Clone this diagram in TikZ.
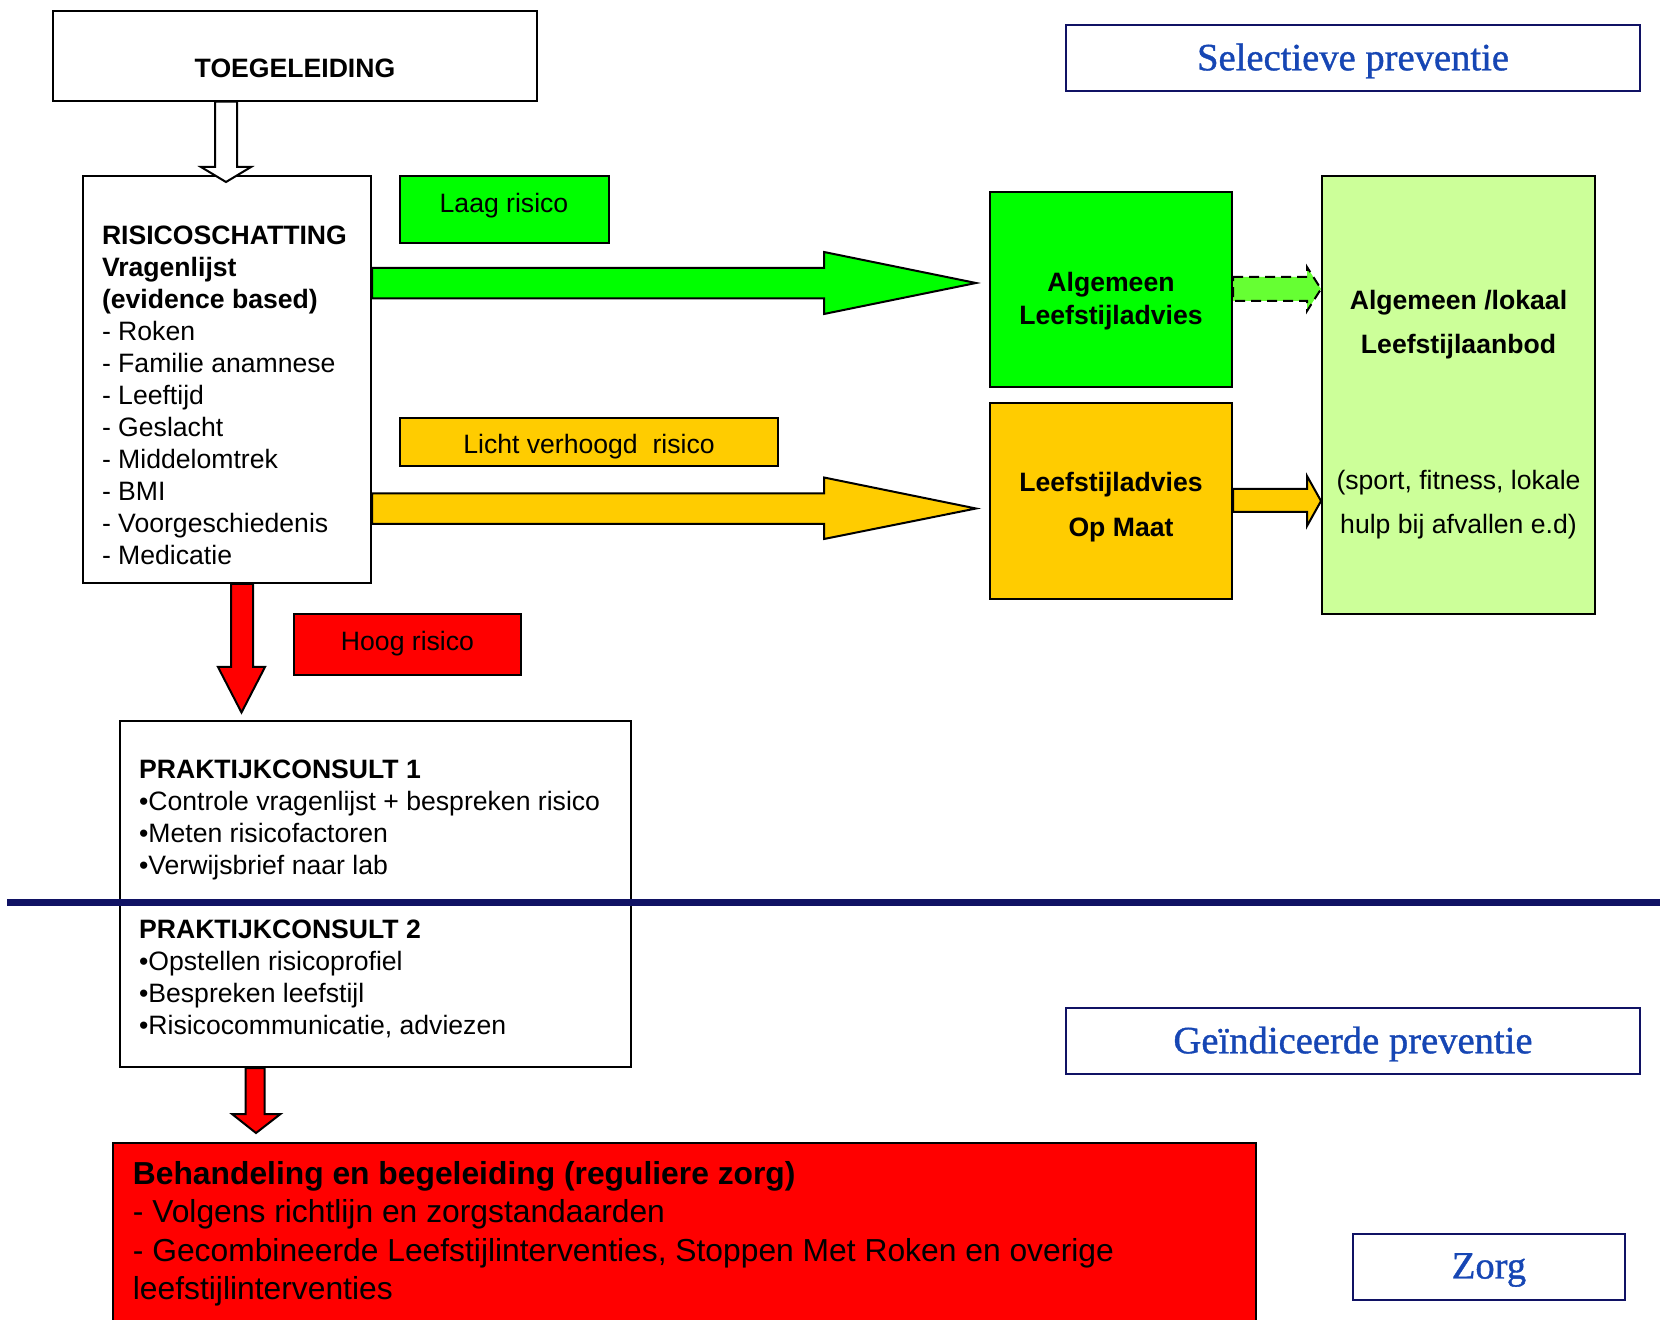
\documentclass[tikz,border=0pt]{standalone}
\usepackage{fontspec}
\setmainfont{Liberation Sans}
\newfontfamily\serifblue[FakeBold=1]{Liberation Serif}
\usetikzlibrary{calc}
\definecolor{cgreen}{RGB}{0,255,0}
\definecolor{corange}{RGB}{255,204,0}
\definecolor{clight}{RGB}{204,255,153}
\definecolor{cred}{RGB}{255,0,0}
\definecolor{cdash}{RGB}{102,255,51}
\definecolor{cnavy}{RGB}{16,18,100}
\definecolor{cblue}{RGB}{22,70,180}
\begin{document}
\begin{tikzpicture}[x=0.5pt,y=-0.5pt,
  box/.style={draw=black, line width=1pt, inner sep=0pt},
  lbl/.style={inner sep=0pt, font=\fontsize{13.3}{16}\selectfont},
  blk/.style={draw=black, line width=1pt, line join=miter},
  tag/.style={draw=cnavy, line width=1.3pt, inner sep=0pt, fill=white},
  tagtext/.style={inner sep=0pt, text=cblue, font=\serifblue\fontsize{19.3}{23}\selectfont}]
\useasboundingbox (0,0) rectangle (1660,1320);
\fill[white] (0,0) rectangle (1660,1320);

% boxes
\node[box, minimum width=242pt, minimum height=45pt] (toe) at (295,55.6) {};
\node[box, minimum width=144pt, minimum height=203.5pt] (risk) at (227,379.5) {};
\node[box, fill=cgreen, minimum width=104.5pt, minimum height=33.75pt] (laag) at (504.5,209.75) {};
\node[box, fill=corange, minimum width=189pt, minimum height=24pt] (licht) at (589,442) {};
\node[box, fill=cred, minimum width=113.5pt, minimum height=30.5pt] (hoog) at (407.5,644.5) {};
\node[box, fill=cgreen, minimum width=121pt, minimum height=97.75pt] (alg) at (1111,289.75) {};
\node[box, fill=corange, minimum width=121pt, minimum height=98pt] (opmaat) at (1111,501) {};
\node[box, fill=clight, minimum width=136.5pt, minimum height=219pt] (aanbod) at (1458.5,395) {};
\node[box, minimum width=255.5pt, minimum height=173pt] (prak) at (375.5,894) {};
\node[box, fill=cred, minimum width=571.5pt, minimum height=93.5pt] (zorgbox) at (684.5,1236.5) {};
\node[tag, minimum width=287pt, minimum height=33pt] (sel) at (1353,58) {};
\node[tag, minimum width=287pt, minimum height=33pt] (gei) at (1353,1041) {};
\node[tag, minimum width=136pt, minimum height=33pt] (zorg) at (1489,1267) {};

% texts
\node[lbl, font=\bfseries\fontsize{13.3}{16}\selectfont] (toetext) at (295,68) {TOEGELEIDING};
\node[lbl, anchor=north west, align=left] (risktext) at (101.6,226)
  {\textbf{RISICOSCHATTING}\\ \textbf{Vragenlijst}\\ \textbf{(evidence based)}\\
   - Roken\\ - Familie anamnese\\ - Leeftijd\\ - Geslacht\\ - Middelomtrek\\
   - BMI\\ - Voorgeschiedenis\\ - Medicatie};
\node[lbl] (laagtext) at (504,206) {Laag risico};
\node[lbl] (lichttext) at (589,446.5) {Licht verhoogd\ \ risico};
\node[lbl] (hoogtext) at (407.5,644) {Hoog risico};
\node[lbl, align=center, font=\bfseries\fontsize{13.3}{16.4}\selectfont] (algtext) at (1111,300.8)
  {Algemeen\\Leefstijladvies};
\node[lbl, align=center, font=\bfseries\fontsize{13.3}{22.75}\selectfont] (opmaattext) at (1111,507.3)
  {Leefstijladvies\\\hspace*{10pt}Op Maat};
\node[lbl, align=center, font=\bfseries\fontsize{13.3}{22.25}\selectfont] (aanbodtext1) at (1458.5,324.4)
  {Algemeen /lokaal\\Leefstijlaanbod};
\node[lbl, align=center, font=\fontsize{13.3}{22.25}\selectfont] (aanbodtext2) at (1458.5,504.4)
  {(sport, fitness, lokale\\hulp bij afvallen e.d)};
\node[lbl, anchor=north west, align=left] (praktext) at (138.7,760)
  {\textbf{PRAKTIJKCONSULT 1}\\
   •Controle vragenlijst + bespreken risico\\
   •Meten risicofactoren\\
   •Verwijsbrief naar lab\\[16pt]
   \textbf{PRAKTIJKCONSULT 2}\\
   •Opstellen risicoprofiel\\
   •Bespreken leefstijl\\
   •Risicocommunicatie, adviezen};
\node[lbl, anchor=north west, align=left, font=\fontsize{15.9}{19.15}\selectfont] (zorgtext) at (132.5,1161)
  {\textbf{Behandeling en begeleiding (reguliere zorg)}\\
   - Volgens richtlijn en zorgstandaarden\\
   - Gecombineerde Leefstijlinterventies, Stoppen Met Roken en overige\\
   leefstijlinterventies};
\node[tagtext] (seltext) at (1353,61) {Selectieve preventie};
\node[tagtext] (geitext) at (1353,1044) {Geïndiceerde preventie};
\node[tagtext] (zorgtagtext) at (1489,1270) {Zorg};

% divider
\coordinate (lineL) at (7,902);
\coordinate (lineR) at (1660,902);
\draw[cnavy, line width=3.5pt] (lineL) -- (lineR);

% block arrows
\draw[blk, fill=white] (toe.south -| 215,0) -- (215,167) -- (201,167) -- (226,182) -- (251,167) -- (237,167) -- (toe.south -| 237,0) -- cycle;
\draw[blk, fill=cgreen] (risk.east |- 0,268) -- (824,268) -- (824,252) -- (976,283) -- (824,314) -- (824,298.5) -- (risk.east |- 0,298.5) -- cycle;
\draw[blk, fill=corange] (risk.east |- 0,493.4) -- (824,493.4) -- (824,477.5) -- (976,508.5) -- (824,539) -- (824,524) -- (risk.east |- 0,524) -- cycle;
\draw[blk, fill=cdash, dashed, dash pattern=on 5pt off 3pt] (alg.east |- 0,277) -- (1307,277) -- (1307,267) -- (aanbod.west |- 0,289) -- (1307,311) -- (1307,301) -- (alg.east |- 0,301) -- cycle;
\draw[blk, fill=corange] (opmaat.east |- 0,489) -- (1307,489) -- (1307,476) -- (aanbod.west |- 0,501) -- (1307,526) -- (1307,512) -- (opmaat.east |- 0,512) -- cycle;
\draw[blk, fill=cred] (risk.south -| 231,0) -- (231,667) -- (218,667) -- (241.5,712.5) -- (265,667) -- (253,667) -- (risk.south -| 253,0) -- cycle;
\draw[blk, fill=cred] (prak.south -| 245.6,0) -- (245.6,1114) -- (232,1114) -- (256,1133) -- (280.5,1114) -- (264.7,1114) -- (prak.south -| 264.7,0) -- cycle;
\end{tikzpicture}
\end{document}
